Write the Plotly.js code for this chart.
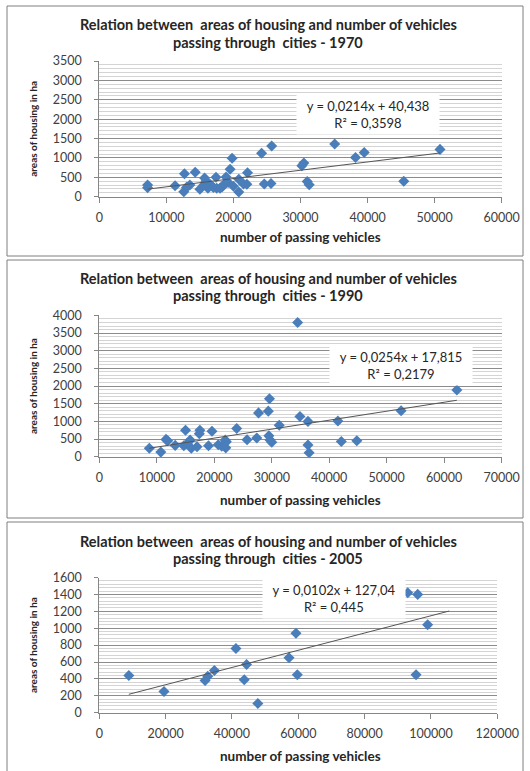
<!DOCTYPE html>
<html>
<head>
<meta charset="utf-8">
<script src="https://cdn.plot.ly/plotly-3.0.1.min.js"></script>
<style>html,body{margin:0;padding:0;background:#fff;}#chart{width:530px;height:771px;}</style>
</head>
<body>
<div id="chart"></div>
<script>
// ---------- DATA ----------
const x1970 = [7200,7200,11300,12700,12600,13000,13500,14300,15000,15700,15600,15900,16200,16500,17000,17400,17500,18000,18300,18500,18900,19200,19500,19800,20000,20800,20800,21500,22000,22100,24200,24600,25700,25600,30200,30500,31000,31300,35100,38200,39500,45400,50800];
const y1970 = [300,230,280,590,130,240,300,630,190,480,300,400,220,320,240,500,220,220,250,300,510,370,710,990,270,450,120,330,320,620,1120,330,1310,340,800,870,390,310,1360,1010,1140,400,1220];
const eq1970 = {slope:0.0214, intercept:40.438, text:"y = 0,0214x + 40,438", r2:"R² = 0,3598"};
const trendX1970 = [7200, 50800];

const x1990 = [8700,10700,11600,11900,13200,14700,15000,15300,15800,16000,17000,17400,17500,19000,19600,20700,21300,21900,22000,22100,23900,25700,27400,27700,29400,29600,29500,29700,30000,31300,34500,34900,36300,36300,36500,41500,42100,44800,52500,62200];
const y1990 = [240,130,490,450,320,310,750,380,470,240,280,650,750,310,720,340,300,470,250,420,800,480,530,1240,1290,1640,590,470,410,890,3800,1140,1000,330,110,1010,430,450,1300,1890];
const eq1990 = {slope:0.0254, intercept:17.815, text:"y = 0,0254x + 17,815", r2:"R² = 0,2179"};
const trendX1990 = [8700, 62200];

const x2005 = [8900,19500,31900,32700,34700,41200,43700,44400,47800,57200,59300,59700,93000,96000,95500,99000];
const y2005 = [440,250,380,430,500,760,390,570,110,650,940,450,1420,1400,450,1040];
const eq2005 = {slope:0.0102, intercept:127.04, text:"y = 0,0102x + 127,04", r2:"R² = 0,445"};
const trendX2005 = [8900, 105500];

const titles = ["Relation between  areas of housing and number of vehicles<br>passing through  cities - 1970",
                "Relation between  areas of housing and number of vehicles<br>passing through  cities - 1990",
                "Relation between  areas of housing and number of vehicles<br>passing through  cities - 2005"];
const xTitle = "number of passing vehicles";
const yTitle = "areas of housing in ha";
const xRanges = [[0,60000],[0,70000],[0,120000]];
const yRanges = [[0,3500],[0,4000],[0,1600]];
const xDticks = [10000,10000,20000];
const yDticks = [500,500,200];

// ---------- LAYOUT HELPERS ----------
const W = 530, H = 771;
const px = v => v / W;
const py = v => 1 - v / H;
const FONT = "Lato, 'Open Sans', sans-serif";
const BLUE = "#4a7ebb";

const panels = [
  {top:6, bottom:256, plotL:99.3, plotR:501.7, plotT:61, plotB:196.7, t1:25, t2:42, xt:237, eq:[368,114]},
  {top:260, bottom:518, plotL:99.3, plotR:501.7, plotT:315.4, plotB:456.7, t1:278, t2:295, xt:500, eq:[401,365]},
  {top:522, bottom:775, plotL:99.3, plotR:497.3, plotT:577.5, plotB:712.7, t1:541.5, t2:558, xt:756, eq:[334,598]}
];
const sets = [
  {x:x1970, y:y1970, eq:eq1970, tx:trendX1970},
  {x:x1990, y:y1990, eq:eq1990, tx:trendX1990},
  {x:x2005, y:y2005, eq:eq2005, tx:trendX2005}
];

const data = [];
const layout = {
  width: W, height: H,
  margin: {l:0, r:0, t:0, b:0},
  paper_bgcolor: "#fff", plot_bgcolor: "#fff",
  showlegend: false,
  font: {family: FONT, size: 12, color: "#404040"},
  shapes: [], annotations: []
};

sets.forEach((s, i) => {
  const p = panels[i];
  const sfx = i === 0 ? "" : String(i + 1);
  const xa = "x" + sfx, ya = "y" + sfx;
  data.push({
    type: "scatter", mode: "markers", x: s.x, y: s.y, xaxis: xa, yaxis: ya,
    marker: {symbol: "diamond", size: 8.5, color: BLUE, line: {width: 0}},
    hoverinfo: "skip", cliponaxis: false
  });
  data.push({
    type: "scatter", mode: "lines", x: s.tx, y: s.tx.map(v => s.eq.slope * v + s.eq.intercept),
    xaxis: xa, yaxis: ya, line: {color: "#555555", width: 1}, hoverinfo: "skip"
  });
  layout["xaxis" + sfx] = {
    domain: [px(p.plotL), px(p.plotR)], range: xRanges[i], anchor: ya,
    dtick: xDticks[i], tick0: 0, tickformat: "d", showgrid: false, zeroline: false,
    showline: true, linecolor: "#868686", linewidth: 1,
    ticks: "outside", ticklen: 5, tickcolor: "#868686",
    tickfont: {family: FONT, size: 12.5, color: "#404040"}, ticklabelstandoff: 4, fixedrange: true
  };
  layout["yaxis" + sfx] = {
    domain: [py(p.plotB), py(p.plotT)], range: yRanges[i], anchor: xa,
    dtick: yDticks[i], tick0: 0, tickformat: "d", showgrid: true, gridcolor: "#8c8c8c", gridwidth: 1,
    minor: {dtick: yDticks[i] / 5, showgrid: true, gridcolor: "#d4d4d4", gridwidth: 1, ticks: ""},
    zeroline: false, showline: true, linecolor: "#868686", linewidth: 1,
    ticks: "outside", ticklen: 4, tickcolor: "#868686",
    tickfont: {family: FONT, size: 12.5, color: "#404040"}, ticklabelstandoff: 10, fixedrange: true
  };
  // panel frame
  layout.shapes.push({type: "rect", xref: "paper", yref: "paper", x0: px(7), x1: px(523), y0: py(p.bottom), y1: py(p.top),
    line: {color: "#7f7f7f", width: 1}, layer: "below"});
  // title
  const tl = titles[i].split("<br>");
  layout.annotations.push({xref: "paper", yref: "paper", x: px(268), y: py(p.t1), text: "<b>" + tl[0] + "</b>", showarrow: false,
    xanchor: "center", yanchor: "middle", font: {family: FONT, size: 14.5, color: "#262626"}});
  layout.annotations.push({xref: "paper", yref: "paper", x: px(268), y: py(p.t2), text: "<b>" + tl[1] + "</b>", showarrow: false,
    xanchor: "center", yanchor: "middle", font: {family: FONT, size: 14.5, color: "#262626"}});
  // x axis title
  layout.annotations.push({xref: "paper", yref: "paper", x: px(300), y: py(p.xt), text: "<b>" + xTitle + "</b>", showarrow: false,
    xanchor: "center", yanchor: "middle", font: {family: FONT, size: 13.5, color: "#262626"}});
  // y axis title
  layout.annotations.push({xref: "paper", yref: "paper", x: px(33), y: py((p.plotT + p.plotB) / 2), text: "<b>" + yTitle + "</b>", showarrow: false,
    textangle: -90, xanchor: "center", yanchor: "middle", font: {family: FONT, size: 10, color: "#262626"}});
  // equation box
  layout.annotations.push({xref: "paper", yref: "paper", x: px(p.eq[0]), y: py(p.eq[1]), text: s.eq.text + "<br>" + s.eq.r2,
    showarrow: false, xanchor: "center", yanchor: "middle", align: "center", bgcolor: "#ffffff", borderpad: 3, width: 136,
    font: {family: FONT, size: 13, color: "#262626"}});
});

Plotly.newPlot("chart", data, layout, {staticPlot: true, displayModeBar: false});
</script>
</body>
</html>
